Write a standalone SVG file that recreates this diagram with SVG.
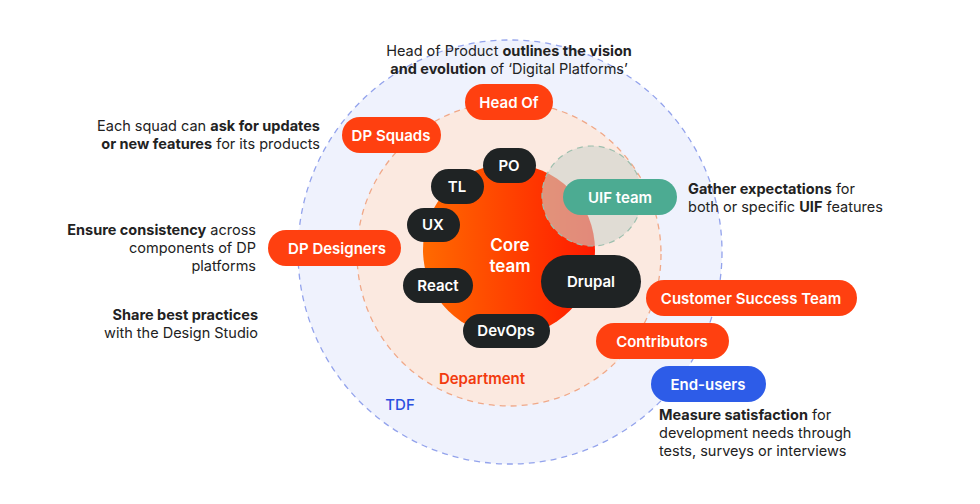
<svg xmlns="http://www.w3.org/2000/svg" width="980" height="504" viewBox="0 0 980 504">
<style>
text{font-family:Inter,"Open Sans","Liberation Sans",sans-serif}
.lbl{font-size:15px;font-weight:600;fill:#fff;text-anchor:middle}
.note{font-size:14.5px;fill:#222}
.b{font-weight:700}
.or{fill:#ff4010}
.dk{fill:#1f2324}
</style>
<defs>
<linearGradient id="core" x1="0" x2="1" y1="0" y2="0">
<stop offset="0" stop-color="#ff6a00"/><stop offset="1" stop-color="#ff1a00"/>
</linearGradient>
</defs>
<rect width="980" height="504" fill="#fff"/>
<g id="tdf"><circle cx="510" cy="252" r="212" fill="#eff2fd" stroke="#93a3ec" stroke-width="1.3" stroke-dasharray="6 5"/>
<text x="400" y="410" font-size="15" font-weight="500" fill="#2a50e0" text-anchor="middle">TDF</text></g>
<g id="department"><circle cx="509" cy="254" r="152" fill="#fbe9e0" stroke="#f0a888" stroke-width="1.3" stroke-dasharray="6 5"/>
<text x="482" y="384" font-size="15" font-weight="600" fill="#f23a0e" text-anchor="middle">Department</text></g>
<g id="core-team"><circle cx="509" cy="250" r="86" fill="url(#core)"/>
<text x="510" y="251" class="lbl" font-size="17" style="font-size:17px">Core</text>
<text x="510" y="272" class="lbl" style="font-size:17px">team</text></g>
<g id="uif-area"><circle cx="592" cy="196" r="50" fill="#cfd3cc" fill-opacity="0.6" stroke="#9dbfae" stroke-width="1.2" stroke-dasharray="6 5"/></g>
<g id="head-of"><rect x="465" y="84" width="88" height="36" rx="18" class="or"/><text x="509" y="108" class="lbl">Head Of</text></g>
<g id="dp-squads"><rect x="342" y="117" width="99" height="36" rx="18" class="or"/><text x="391" y="141" class="lbl">DP Squads</text></g>
<g id="po"><rect x="483" y="148" width="53" height="35" rx="17.5" class="dk"/><text x="509" y="171" class="lbl">PO</text></g>
<g id="tl"><rect x="431" y="169" width="53" height="35" rx="17.5" class="dk"/><text x="457" y="192" class="lbl">TL</text></g>
<g id="ux"><rect x="407" y="208" width="53" height="34" rx="17" class="dk"/><text x="433" y="230" class="lbl">UX</text></g>
<g id="dp-designers"><rect x="268" y="230" width="133" height="36" rx="18" class="or"/><text x="337" y="254" class="lbl">DP Designers</text></g>
<g id="uif-team"><rect x="563" y="179" width="114" height="36" rx="18" fill="#4cab92"/><text x="620" y="203" class="lbl">UIF team</text></g>
<g id="react"><rect x="403" y="268" width="70" height="35" rx="17.5" class="dk"/><text x="438" y="291" class="lbl">React</text></g>
<g id="drupal"><rect x="541" y="255" width="100" height="53" rx="26.5" class="dk"/><text x="591" y="287" class="lbl">Drupal</text></g>
<g id="devops"><rect x="463" y="314" width="87" height="34" rx="17" class="dk"/><text x="506" y="336" class="lbl">DevOps</text></g>
<g id="customer-success"><rect x="646" y="280" width="211" height="36" rx="18" class="or"/><text x="751" y="304" class="lbl">Customer Success Team</text></g>
<g id="contributors"><rect x="596" y="323" width="133" height="36" rx="18" class="or"/><text x="662" y="347" class="lbl">Contributors</text></g>
<g id="end-users"><rect x="651" y="366" width="115" height="36" rx="18" fill="#2d5ce8"/><text x="708" y="390" class="lbl">End-users</text></g>
<g id="notes">
<text x="509" y="56" class="note" text-anchor="middle">Head of Product <tspan class="b">outlines the vision</tspan></text>
<text x="509" y="74" class="note" text-anchor="middle"><tspan class="b">and evolution</tspan> of ‘Digital Platforms’</text>
<text x="320" y="131" class="note" text-anchor="end">Each squad can <tspan class="b">ask for updates</tspan></text>
<text x="320" y="149" class="note" text-anchor="end"><tspan class="b">or new features</tspan> for its products</text>
<text x="256" y="235" class="note" text-anchor="end"><tspan class="b">Ensure consistency</tspan> across</text>
<text x="256" y="253" class="note" text-anchor="end">components of DP</text>
<text x="256" y="271" class="note" text-anchor="end">platforms</text>
<text x="258" y="320" class="note" text-anchor="end"><tspan class="b">Share best practices</tspan></text>
<text x="258" y="338" class="note" text-anchor="end">with the Design Studio</text>
<text x="688" y="194" class="note"><tspan class="b">Gather expectations</tspan> for</text>
<text x="688" y="212" class="note">both or specific <tspan class="b">UIF</tspan> features</text>
<text x="659" y="420" class="note"><tspan class="b">Measure satisfaction</tspan> for</text>
<text x="659" y="438" class="note">development needs through</text>
<text x="659" y="456" class="note">tests, surveys or interviews</text>
</g>
</svg>
